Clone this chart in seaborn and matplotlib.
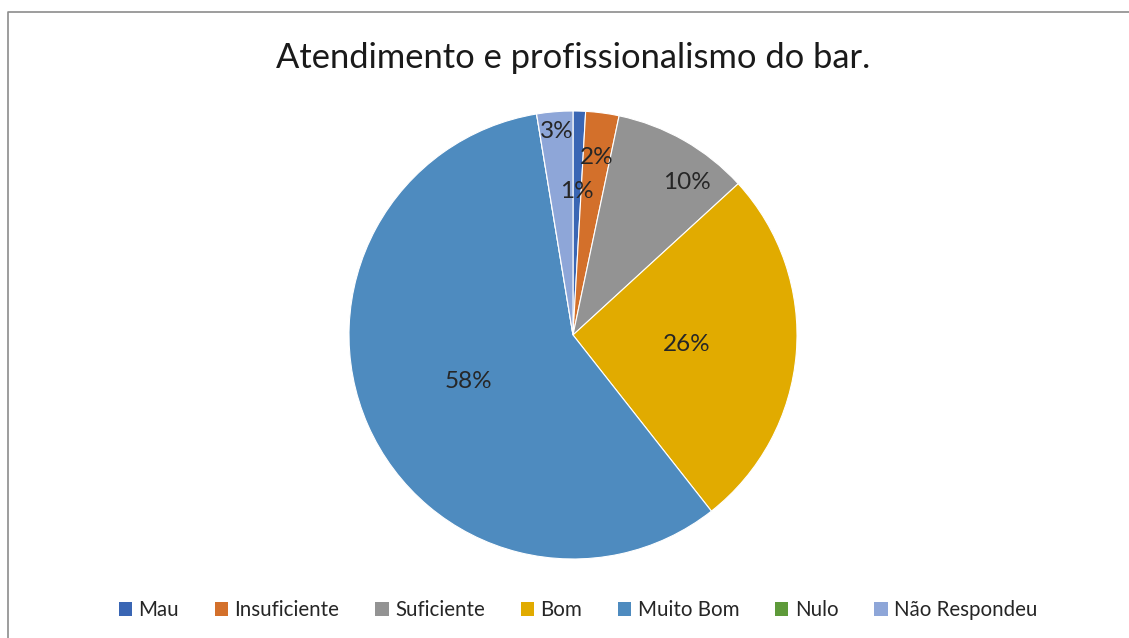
import numpy as np
import matplotlib
matplotlib.use("Agg")
import matplotlib.pyplot as plt
from matplotlib.patches import Patch
from matplotlib.lines import Line2D
import seaborn as sns

# data (percent of answers)
categories = ["Mau", "Insuficiente", "Suficiente", "Bom", "Muito Bom", "Nulo", "Não Respondeu"]
values = [0.9, 2.4, 9.9, 26.2, 58.0, 0.0, 2.6]

colors = ["#3a66b4", "#d3702b", "#939393", "#e1ab00", "#4e8bbf", "#5e9a3a", "#8ea6d8"]
# label placement: radial factor and angle shift (deg) per slice
label_dist = [0.64, 0.80, 0.85, 0.51, 0.51, 0.0, 0.91]
label_shift = [0, 0, 7, 0, 0, 0, 0]

sns.set_theme(style="white")
plt.rcParams["font.family"] = ["Lato", "DejaVu Sans"]

W, H = 1129, 638
fig = plt.figure(figsize=(W / 100, H / 100), dpi=100)
fig.patch.set_facecolor("white")

# pie axes: center (573, 335), radius 224 px
cx, cy, r = 573, 335, 224
ax = fig.add_axes([(cx - r) / W, (H - cy - r) / H, 2 * r / W, 2 * r / H])
ax.pie(values, colors=colors, startangle=90, counterclock=False, radius=1,
       wedgeprops=dict(edgecolor="white", linewidth=0.8))
ax.set_xlim(-1, 1)
ax.set_ylim(-1, 1)
ax.set_aspect("equal")
ax.axis("off")

# data labels
total = sum(values)
cum = 0.0
for v, d, s in zip(values, label_dist, label_shift):
    mid = (cum + v / 2) / total * 360 + s
    cum += v
    if v == 0:
        continue
    a = np.deg2rad(90 - mid)
    ax.text(d * np.cos(a), d * np.sin(a), f"{round(v / total * 100):.0f}%",
            ha="center", va="center", fontsize=17.5, color="#262626")

fig.text(573 / W, 1 - 58 / H, "Atendimento e profissionalismo do bar.",
         ha="center", va="center", fontsize=24.8, color="#1a1a1a")

handles = [Patch(facecolor=c, edgecolor="none") for c in colors]
fig.legend(handles, categories, loc="center", bbox_to_anchor=(578 / W, 1 - 610 / H),
           ncol=len(categories), frameon=False, fontsize=14.8,
           handlelength=0.65, handleheight=0.65, handletextpad=0.3, columnspacing=1.75)

# chart area border (top and left visible)
fig.add_artist(Line2D([7.5 / W, 7.5 / W, 1], [0, 1 - 12 / H, 1 - 12 / H],
                      transform=fig.transFigure, color="#8c8c8c", lw=1.2))

fig.savefig("out.png", dpi=100)
